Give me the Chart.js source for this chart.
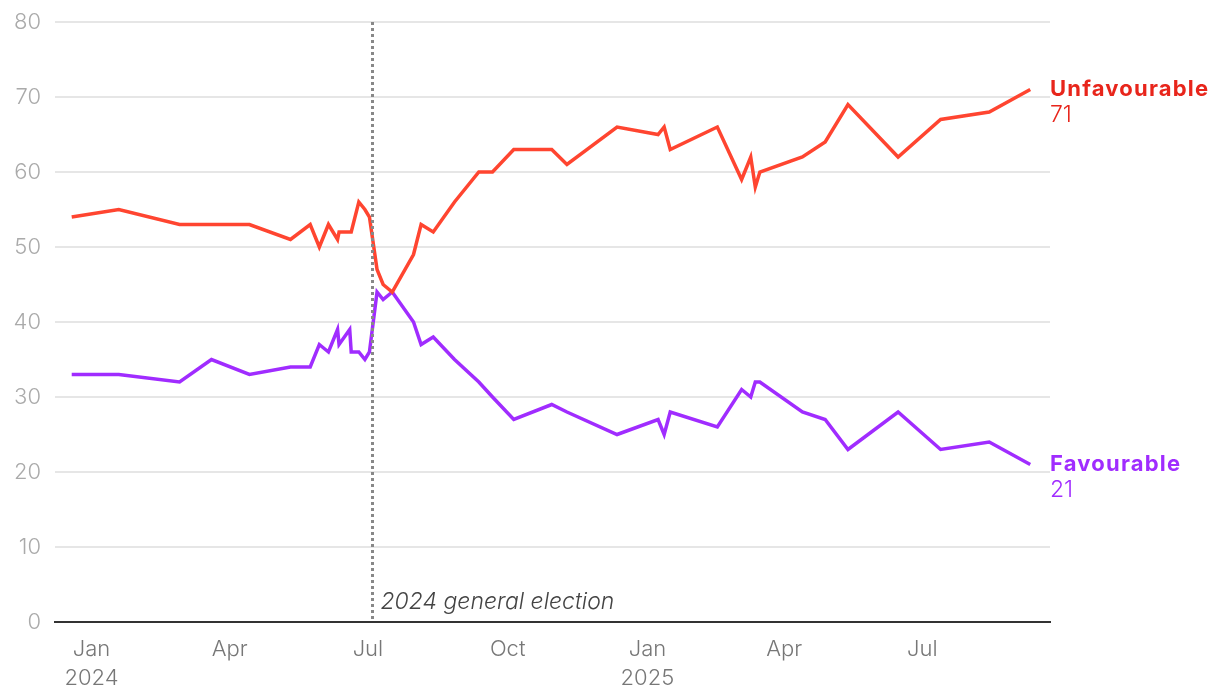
<!DOCTYPE html>
<html>
<head>
<meta charset="utf-8">
<script src="https://cdn.jsdelivr.net/npm/chart.js@4"></script>
<style>
  html, body { margin: 0; background: #fff; }
</style>
</head>
<body>
<canvas id="chart" width="1220" height="698"></canvas>
<script>
// poll fieldwork dates and shares (%)
const dates = ['2023-12-19', '2024-01-19', '2024-02-28', '2024-03-20', '2024-04-14', '2024-05-11', '2024-05-24', '2024-05-30',
  '2024-06-05', '2024-06-11', '2024-06-12', '2024-06-19', '2024-06-20', '2024-06-25', '2024-06-29', '2024-07-02',
  '2024-07-07', '2024-07-11', '2024-07-17', '2024-07-31', '2024-08-05', '2024-08-13', '2024-08-27', '2024-09-12',
  '2024-09-21', '2024-10-05', '2024-10-30', '2024-11-09', '2024-12-12', '2025-01-08', '2025-01-12', '2025-01-16',
  '2025-02-16', '2025-03-04', '2025-03-10', '2025-03-13', '2025-03-16', '2025-04-13', '2025-04-28', '2025-05-13',
  '2025-06-15', '2025-07-13', '2025-08-14', '2025-09-10']
const unfavourable = [54, 55, 53, 53, 53, 51, 53, 50, 53, 51, 52, 52, 52, 56, 55, 54, 47, 45, 44, 49, 53, 52, 56, 60,
  60, 63, 63, 61, 66, 65, 66, 63, 66, 59, 62, 58, 60, 62, 64, 69, 62, 67, 68, 71]
const favourable = [33, 33, 32, 35, 33, 34, 34, 37, 36, 39, 37, 39, 36, 36, 35, 36, 44, 43, 44, 40, 37, 38, 35, 32,
  30, 27, 29, 28, 25, 27, 25, 28, 26, 31, 30, 32, 32, 28, 27, 23, 28, 23, 24, 21]

const monthTicks = ['2024-01-01', '2024-04-01', '2024-07-01', '2024-10-01', '2025-01-01', '2025-04-01', '2025-07-01']
const monthLabels = [['Jan', '2024'], 'Apr', 'Jul', 'Oct', ['Jan', '2025'], 'Apr', 'Jul']
const yTicks = [0, 10, 20, 30, 40, 50, 60, 70, 80]

const electionDate = '2024-07-04'
const electionLabel = '2024 general election'

const RED = '#ff4530'
const RED_TEXT = '#e8251b'
const PURPLE = '#a02cff'
const FONT = 'Inter, "Noto Sans", sans-serif'

const t = d => Date.parse(d)

const toPoints = values => values.map((v, i) => ({ x: t(dates[i]), y: v }))

const annotations = {
  id: 'annotations',
  afterDatasetsDraw(chart) {
    const { ctx, chartArea, scales: { x } } = chart
    const ex = Math.round(x.getPixelForValue(t(electionDate))) + 0.5

    ctx.save()
    ctx.strokeStyle = '#888'
    ctx.lineWidth = 3
    ctx.setLineDash([3, 3])
    ctx.beginPath()
    ctx.moveTo(ex, chartArea.top)
    ctx.lineTo(ex, chartArea.bottom)
    ctx.stroke()
    ctx.setLineDash([])

    ctx.fillStyle = '#444'
    ctx.font = 'italic 300 23px ' + FONT
    ctx.textBaseline = 'middle'
    ctx.fillText(electionLabel, ex + 8, chartArea.bottom - 20)

    // end labels
    chart.data.datasets.forEach((ds, i) => {
      const meta = chart.getDatasetMeta(i)
      const last = meta.data[meta.data.length - 1]
      const lx = chartArea.right
      ctx.fillStyle = ds.labelColor
      ctx.font = 'bold 22px ' + FONT
      ctx.letterSpacing = '1.2px'
      ctx.fillText(ds.label, lx, last.y)
      ctx.letterSpacing = '0px'
      ctx.font = '300 23px ' + FONT
      ctx.fillText(String(ds.data[ds.data.length - 1].y), lx, last.y + 26)
    })
    ctx.restore()
  }
}

const chart = new Chart(document.getElementById('chart'), {
  type: 'line',
  data: {
    datasets: [
      {
        label: 'Unfavourable',
        data: toPoints(unfavourable),
        borderColor: RED,
        labelColor: RED_TEXT,
        borderWidth: 3.5,
        pointRadius: 0,
        tension: 0
      },
      {
        label: 'Favourable',
        data: toPoints(favourable),
        borderColor: PURPLE,
        labelColor: PURPLE,
        borderWidth: 3.5,
        pointRadius: 0,
        tension: 0
      }
    ]
  },
  options: {
    responsive: false,
    animation: false,
    layout: { padding: { top: 22, right: 170, left: 0, bottom: 0 } },
    plugins: {
      legend: { display: false },
      tooltip: { enabled: false }
    },
    scales: {
      x: {
        type: 'linear',
        min: Date.UTC(2023, 11, 8),
        max: Date.UTC(2025, 8, 23),
        afterBuildTicks: scale => {
          scale.ticks = monthTicks.map(d => ({ value: t(d) }))
        },
        afterFit: scale => { scale.height = 76 },
        grid: { display: false },
        border: { display: true, color: '#333', width: 2 },
        ticks: {
          autoSkip: false,
          maxRotation: 0,
          padding: 4,
          color: '#777',
          font: { family: FONT, size: 22, weight: 300, lineHeight: 1.36 },
          callback: function (value) {
            const i = monthTicks.findIndex(d => t(d) === value)
            return i >= 0 ? monthLabels[i] : ''
          }
        }
      },
      y: {
        min: 0,
        max: 80,
        afterBuildTicks: scale => {
          scale.ticks = yTicks.map(v => ({ value: v }))
        },
        afterFit: scale => {
          scale.width = 55
          scale.paddingTop = 0
          scale.paddingBottom = 0
        },
        grid: { color: '#e6e6e6', lineWidth: 2, drawTicks: false },
        border: { display: false },
        ticks: {
          padding: 14,
          color: '#aaa',
          font: { family: FONT, size: 22, weight: 300 }
        }
      }
    }
  },
  plugins: [annotations]
})
</script>
</body>
</html>
